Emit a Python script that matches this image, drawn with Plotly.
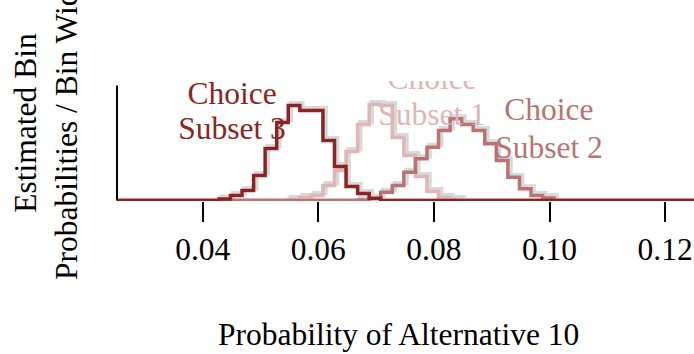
import plotly.graph_objects as go

# Histogram bin edges shared by all three subsets (bin width 0.002)
BIN_EDGES = [0.0428, 0.0448, 0.0468, 0.0488, 0.0508, 0.0528, 0.0548, 0.0568,
             0.0588, 0.0608, 0.0628, 0.0648, 0.0668, 0.0688, 0.0708, 0.0728,
             0.0748, 0.0768, 0.0788, 0.0808, 0.0828, 0.0848, 0.0868, 0.0888,
             0.0908, 0.0928, 0.0948, 0.0968, 0.0988, 0.1008]

# Estimated bin probability / bin width for each choice subset
SUBSET_1 = [0, 0, 0, 0, 0, 0, 0.9, 2.6, 4.4, 13.1, 26.1, 42.6, 66.1, 83.5, 82.7,
            54.8, 39.2, 20.9, 7.8, 2.6, 0.9, 0, 0, 0, 0, 0, 0, 0, 0]
SUBSET_2 = [0, 0, 0, 0, 0, 0, 0, 0, 0, 0, 0, 0, 0.4, 1.5, 7.2, 13.1, 24.6, 36.3,
            46.4, 60.9, 71.1, 66.1, 60.9, 49.3, 34.8, 20.3, 10.2, 4.4, 2.3]
SUBSET_3 = [1.3, 4.4, 8.7, 21.8, 45.2, 67.9, 82.7, 78.3, 78.3, 52.2, 29.6, 12.2,
            6.1, 2.0, 0, 0, 0, 0, 0, 0, 0, 0, 0, 0, 0, 0, 0, 0, 0]

SERIES_NAMES = ["Choice Subset 1", "Choice Subset 2", "Choice Subset 3"]
COLORS = ["#DDB6B6", "#B97373", "#8C2424"]

X_TICKS = [0.04, 0.06, 0.08, 0.10, 0.12]
X_RANGE = [0.02517, 0.125]
Y_RANGE = [-0.4, 104.0]
Y_AXIS_TOP = 100

# label anchor points (data coordinates) for the two text lines of each subset
LABEL_X = [0.07967, 0.09991, 0.04507]
LABEL_Y_TOP = [103.6, 77.3, 90.9]
LABEL_Y_BOTTOM = [72.2, 44.0, 60.5]

FONT = "Liberation Serif"
FS = 31.5

# shadow offset in data units (a few pixels right and up)
SHADOW_DX = 0.00045
SHADOW_DY = 2.0


def step_xy(heights):
    xs = [X_RANGE[0]] + BIN_EDGES + [X_RANGE[1]]
    ys = [0] + list(heights) + [0, 0]
    return xs, ys


fig = go.Figure()
all_series = [SUBSET_1, SUBSET_2, SUBSET_3]

# soft grey shadows behind the raised parts of the step outlines
for vals in all_series:
    xs, ys = step_xy(vals)
    fig.add_trace(go.Scatter(
        x=[v + SHADOW_DX for v in xs],
        y=[v + SHADOW_DY if v > 0 else 0 for v in ys],
        mode="lines", line=dict(color="#D9D9D9", width=4.5, shape="hv"),
        hoverinfo="skip", showlegend=False))

for vals, name, col in zip(all_series, SERIES_NAMES, COLORS):
    xs, ys = step_xy(vals)
    fig.add_trace(go.Scatter(
        x=xs, y=ys, mode="lines", name=name,
        line=dict(color=col, width=3.5, shape="hv"), showlegend=False))

# two-line labels, clipped to the plotting region
for name, col, lx, ly1, ly2 in zip(SERIES_NAMES, COLORS, LABEL_X,
                                   LABEL_Y_TOP, LABEL_Y_BOTTOM):
    first, second = name.split(" ", 1)
    fig.add_trace(go.Scatter(
        x=[lx, lx], y=[ly1, ly2], mode="text", text=[first, second],
        textposition="middle center", cliponaxis=True,
        textfont=dict(family=FONT, size=FS, color=col),
        hoverinfo="skip", showlegend=False))

fig.add_shape(type="line", xref="paper", yref="y", x0=0, x1=0,
              y0=0, y1=Y_AXIS_TOP, line=dict(color="black", width=2))

fig.update_xaxes(range=X_RANGE, tickvals=X_TICKS, tickformat=".2f",
                 ticks="outside", ticklen=20, tickwidth=2, tickcolor="black",
                 showline=False, showgrid=False, zeroline=False,
                 ticklabelstandoff=0,
                 tickfont=dict(family=FONT, size=FS, color="black"))
fig.update_yaxes(range=Y_RANGE, showticklabels=False, ticks="",
                 showline=False, showgrid=False, zeroline=False)

fig.add_annotation(text="Probability of Alternative 10", xref="paper",
                   yref="paper", x=0.4887, y=-1.11, showarrow=False,
                   xanchor="center", yanchor="middle",
                   font=dict(family=FONT, size=FS, color="black"))
fig.add_annotation(text="Estimated Bin<br>Probabilities / Bin Width",
                   xref="paper", yref="paper", x=-0.123, y=0.65,
                   showarrow=False, textangle=-90, xanchor="center",
                   yanchor="middle",
                   font=dict(family=FONT, size=FS, color="black"))

fig.update_layout(width=694, height=354,
                  margin=dict(l=117, r=0, t=81, b=153),
                  paper_bgcolor="white", plot_bgcolor="white")

fig.write_html("out.html")
